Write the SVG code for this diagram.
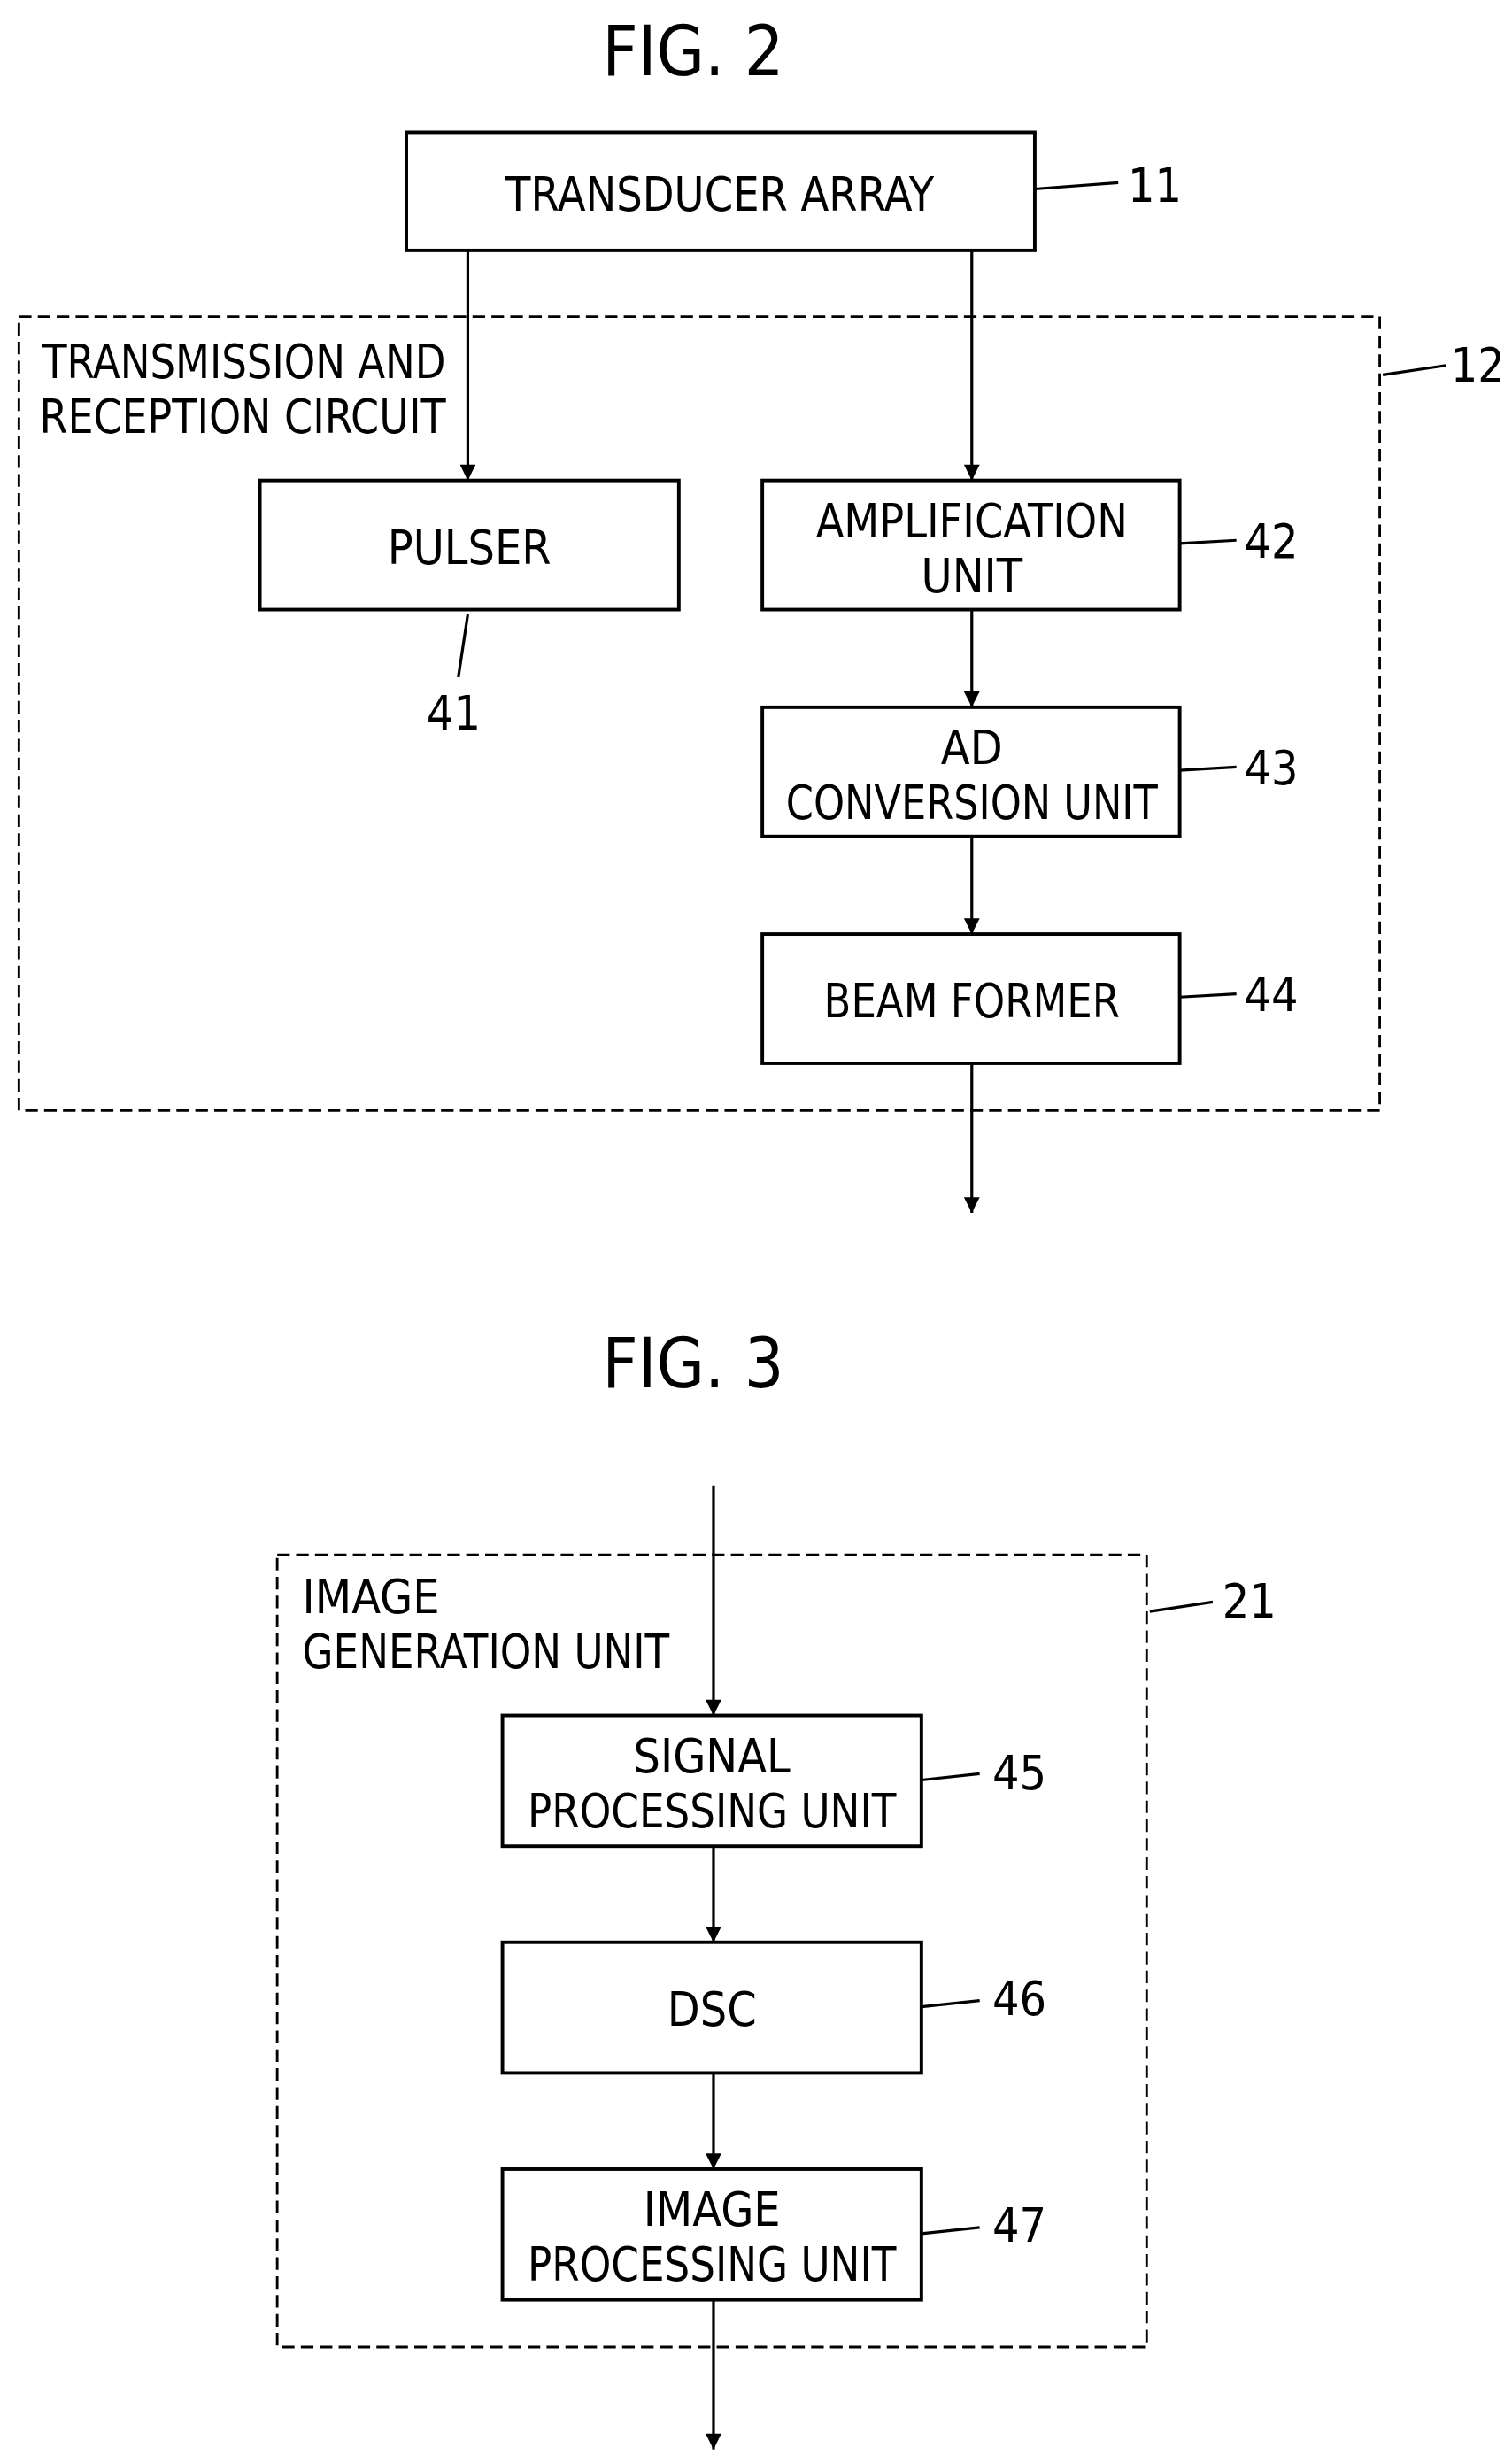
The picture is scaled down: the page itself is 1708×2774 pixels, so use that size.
<svg xmlns="http://www.w3.org/2000/svg" width="1708" height="2774" viewBox="0 0 1708 2774">
<defs>
<marker id="ah" viewBox="0 0 10 10" refX="10" refY="5" markerWidth="14" markerHeight="10" markerUnits="userSpaceOnUse" orient="auto"><path d="M0,0 L10,5 L0,10 z" fill="#000"/></marker>
<style>
.b{fill:#fff;stroke:#000;stroke-width:2.2}
.d{fill:none;stroke:#000;stroke-width:1.6;stroke-dasharray:8,4}
.c{fill:none;stroke:#000;stroke-width:1.8}
.a{fill:none;stroke:#000;stroke-width:1.8;marker-end:url(#ah)}
text{font-family:"DejaVu Sans Condensed","Liberation Sans Narrow","Liberation Sans",sans-serif;font-size:30px;fill:#000}
.m{text-anchor:middle}
.t{font-size:44px}
</style>
</defs>
<rect width="1708" height="2774" fill="#fff"/>
<g transform="scale(1.7792)">
<text class="m t" x="440" y="48">FIG. 2</text>
<g id="n12"><rect class="d" x="12" y="201" width="864" height="504"/>
<text x="27" y="240" textLength="256" lengthAdjust="spacingAndGlyphs">TRANSMISSION AND</text>
<text x="25" y="275" textLength="258" lengthAdjust="spacingAndGlyphs">RECEPTION CIRCUIT</text>
<text x="921" y="242">12</text></g>
<g id="n11"><rect class="b" x="258" y="84" width="399" height="75"/><text class="m" x="457" y="134" textLength="272" lengthAdjust="spacingAndGlyphs">TRANSDUCER ARRAY</text><text x="716" y="128">11</text></g>
<g id="n41"><rect class="b" x="165" y="305" width="266" height="82"/><text class="m" x="298" y="358">PULSER</text><text class="m" x="288" y="463">41</text></g>
<g id="n42"><rect class="b" x="484" y="305" width="265" height="82"/><text class="m" x="617" y="341" textLength="198" lengthAdjust="spacingAndGlyphs">AMPLIFICATION</text><text class="m" x="617" y="376">UNIT</text><text x="790" y="354">42</text></g>
<g id="n43"><rect class="b" x="484" y="449" width="265" height="82"/><text class="m" x="617" y="485">AD</text><text class="m" x="617" y="520" textLength="236" lengthAdjust="spacingAndGlyphs">CONVERSION UNIT</text><text x="790" y="498">43</text></g>
<g id="n44"><rect class="b" x="484" y="593" width="265" height="82"/><text class="m" x="617" y="646" textLength="188" lengthAdjust="spacingAndGlyphs">BEAM FORMER</text><text x="790" y="642">44</text></g>
<text class="m t" x="440" y="881">FIG. 3</text>
<g id="n21"><rect class="d" x="176" y="987" width="552" height="503"/>
<text x="192" y="1024">IMAGE</text><text x="192" y="1059" textLength="233" lengthAdjust="spacingAndGlyphs">GENERATION UNIT</text><text x="776" y="1027">21</text></g>
<g id="n45"><rect class="b" x="319" y="1089" width="266" height="83"/><text class="m" x="452" y="1125">SIGNAL</text><text class="m" x="452" y="1160" textLength="234" lengthAdjust="spacingAndGlyphs">PROCESSING UNIT</text><text x="630" y="1136">45</text></g>
<g id="n46"><rect class="b" x="319" y="1233" width="266" height="83"/><text class="m" x="452" y="1286">DSC</text><text x="630" y="1279">46</text></g>
<g id="n47"><rect class="b" x="319" y="1377" width="266" height="83"/><text class="m" x="452" y="1413">IMAGE</text><text class="m" x="452" y="1448" textLength="234" lengthAdjust="spacingAndGlyphs">PROCESSING UNIT</text><text x="630" y="1423">47</text></g>
<g id="connectors">
<path class="a" d="M297,159 V305"/><path class="a" d="M617,159 V305"/>
<path class="a" d="M617,387 V449"/><path class="a" d="M617,531 V593"/>
<path class="a" d="M617,675 V770"/>
<path class="a" d="M453,943 V1089"/><path class="a" d="M453,1172 V1233"/>
<path class="a" d="M453,1316 V1377"/><path class="a" d="M453,1460 V1555"/>
<path class="c" d="M657,120 L710,116 M878,238 L918,232 M749,345 L785,343 M297,390 L291,430 M749,489 L785,487 M749,633 L785,631 M730,1023 L770,1017 M585,1130 L622,1126 M585,1274 L622,1270 M585,1418 L622,1414"/>
</g>
</g>
</svg>
